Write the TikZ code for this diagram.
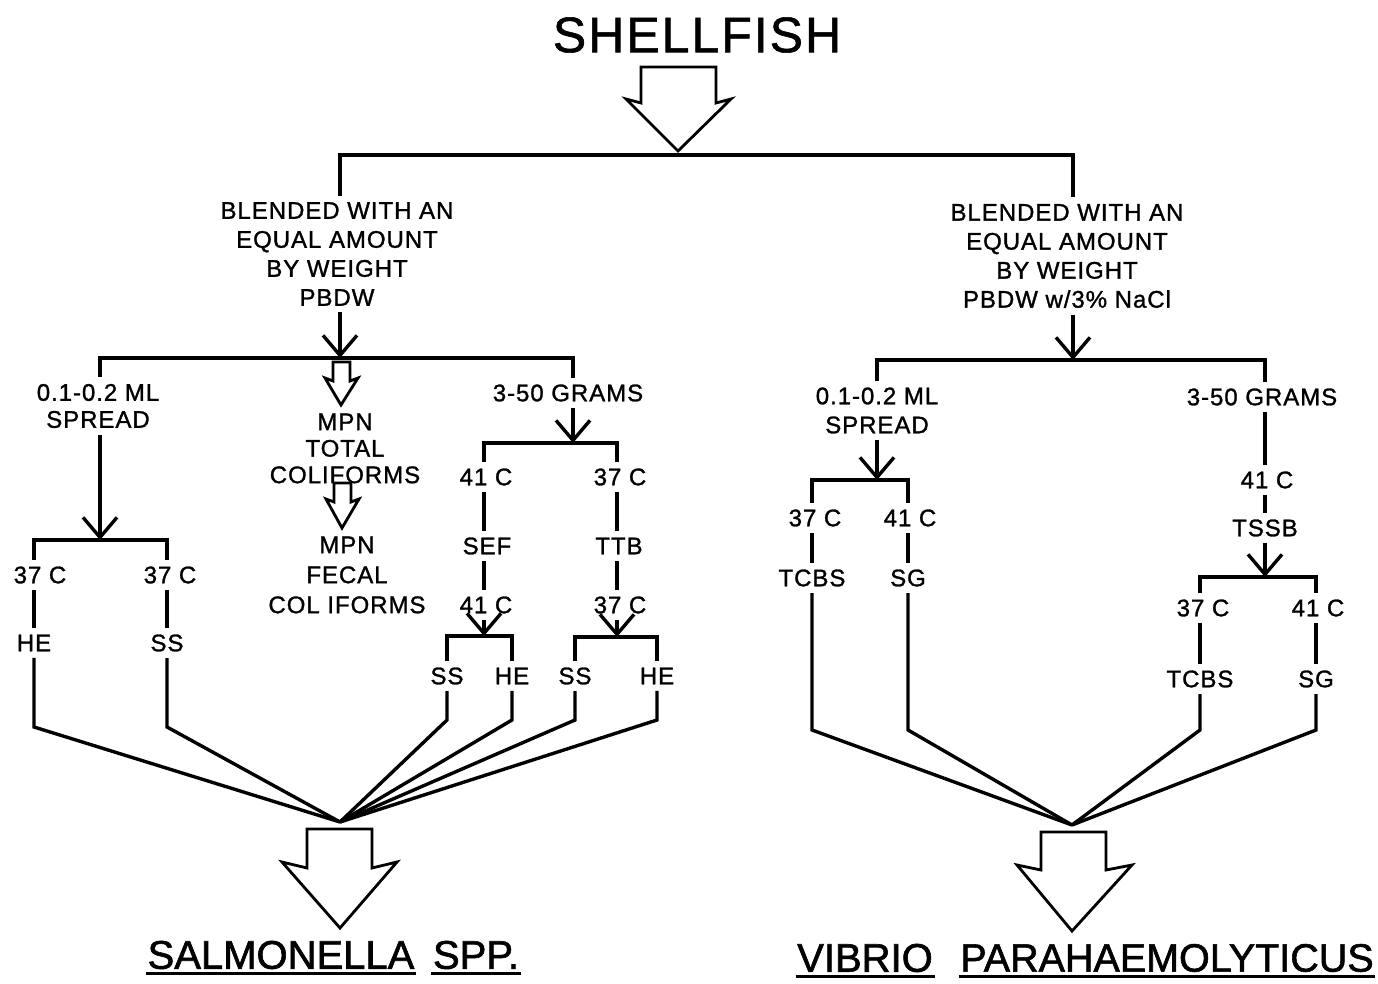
\documentclass[tikz,border=0pt]{standalone}
\usepackage{fontspec}
\setmainfont{Liberation Sans}[FakeBold=1.2,LetterSpace=4]
\newfontfamily\bigfont{Liberation Sans}[FakeBold=1.5]
\usetikzlibrary{arrows.meta}
\begin{document}
\begin{tikzpicture}[x=1pt,y=-1pt,line width=3.4pt,line join=miter,
  lab/.style={font=\fontsize{24}{28}\selectfont,inner sep=5pt,align=center},
  big/.style={font=\bigfont\fontsize{40}{40}\selectfont,inner sep=0pt},
  varrow/.style={-{Straight Barb[length=20pt,width=34pt,line join=miter]}},
  blk/.style={line width=2.8pt,fill=white,line join=miter},
  uline/.style={line width=3pt}]
\path[use as bounding box] (0,0) rectangle (1378,984);
% title
\node[font=\fontsize{50}{50}\selectfont,inner sep=0pt] (shell) at (697,35) {SHELLFISH};
\draw[blk] (641,67) -- (716,67) -- (716,103) -- (731,99) -- (678,151) -- (626,99) -- (641,103) -- cycle;
\coordinate (tL) at (340,155);
\coordinate (tR) at (1073,155);
\node[lab,font=\fontsize{24}{29}\selectfont] (blendL) at (337,254) {BLENDED WITH AN\\EQUAL AMOUNT\\BY WEIGHT\\PBDW};
\node[lab,font=\fontsize{24}{29}\selectfont] (blendR) at (1067,256) {BLENDED WITH AN\\EQUAL AMOUNT\\BY WEIGHT\\PBDW w/3\% NaCl};
\draw (blendL.north -| tL) -- (tL) -- (tR) -- (blendR.north -| tR);
% ---------------- left half ----------------
\coordinate (jL) at (340,358);
\draw[varrow] (blendL.south -| tL) -- (jL);
\coordinate (jLa) at (100,358);
\coordinate (jLc) at (573,358);
\node[lab,font=\fontsize{24}{27}\selectfont] (spreadL) at (98,406) {0.1-0.2 ML\\SPREAD};
\node[lab] (gramsL) at (568,393) {3-50 GRAMS};
\draw (spreadL.north -| jLa) -- (jLa) -- (jLc) -- (gramsL.north -| jLc);
% spread branch
\coordinate (kA) at (100,540);
\draw[varrow] (spreadL.south -| jLa) -- (kA);
\coordinate (kA1) at (34,540);
\coordinate (kA2) at (167,540);
\node[lab] (a1t) at (40,575) {37 C};
\node[lab] (a1m) at (34,643) {HE};
\node[lab] (a2t) at (170,575) {37 C};
\node[lab] (a2m) at (167,643) {SS};
\draw (a1t.north -| kA1) -- (kA1) -- (kA2) -- (a2t.north -| kA2);
\draw (a1t.south -| kA1) -- (a1m.north -| kA1);
\draw (a2t.south -| kA2) -- (a2m.north -| kA2);
\coordinate (convL) at (340,822);
\coordinate (a1e) at (34,727);
\coordinate (a2e) at (167,727);
\draw (a1m.south -| kA1) -- (a1e) -- (convL);
\draw (a2m.south -| kA2) -- (a2e) -- (convL);
% MPN column
\draw[blk] (333,362) -- (350,362) -- (350,381) -- (358,378) -- (341,405) -- (325,378) -- (333,381) -- cycle;
\node[lab,font=\fontsize{24}{26.5}\selectfont] (mpn1) at (345,448.5) {MPN\\TOTAL\\COLIFORMS};
\draw[blk] (334,483) -- (351,483) -- (351,502) -- (359,499) -- (342,528) -- (326,499) -- (334,502) -- cycle;
\node[lab,font=\fontsize{24}{30}\selectfont] (mpn2) at (347,575) {MPN\\FECAL\\COL IFORMS};
% grams branch
\coordinate (kB) at (573,443);
\draw[varrow] (gramsL.south -| jLc) -- (kB);
\coordinate (kB1) at (484,443);
\coordinate (kB2) at (617,443);
\node[lab] (b1t) at (486,477) {41 C};
\node[lab] (b1m) at (487,546) {SEF};
\node[lab] (b1b) at (486,605) {41 C};
\node[lab] (b2t) at (620,477) {37 C};
\node[lab] (b2m) at (619,546) {TTB};
\node[lab] (b2b) at (620,605) {37 C};
\draw (b1t.north -| kB1) -- (kB1) -- (kB2) -- (b2t.north -| kB2);
\draw (b1t.south -| kB1) -- (b1m.north -| kB1);
\draw (b1m.south -| kB1) -- (b1b.north -| kB1);
\draw (b2t.south -| kB2) -- (b2m.north -| kB2);
\draw (b2m.south -| kB2) -- (b2b.north -| kB2);
\coordinate (kC) at (484,636);
\draw[varrow] (b1b.south -| kB1) -- (kC);
\coordinate (kC1) at (447,636);
\coordinate (kC2) at (512,636);
\node[lab] (c1) at (447,676) {SS};
\node[lab] (c2) at (512,676) {HE};
\draw (c1.north -| kC1) -- (kC1) -- (kC2) -- (c2.north -| kC2);
\coordinate (c1e) at (447,720);
\coordinate (c2e) at (512,720);
\draw (c1.south -| kC1) -- (c1e) -- (convL);
\draw (c2.south -| kC2) -- (c2e) -- (convL);
\coordinate (kD) at (617,637);
\draw[varrow] (b2b.south -| kB2) -- (kD);
\coordinate (kD1) at (575,637);
\coordinate (kD2) at (657,637);
\node[lab] (d1) at (575,676) {SS};
\node[lab] (d2) at (657,676) {HE};
\draw (d1.north -| kD1) -- (kD1) -- (kD2) -- (d2.north -| kD2);
\coordinate (d1e) at (575,720);
\coordinate (d2e) at (657,720);
\draw (d1.south -| kD1) -- (d1e) -- (convL);
\draw (d2.south -| kD2) -- (d2e) -- (convL);
% result left
\draw[blk] (307,829) -- (372,829) -- (372,868) -- (397,862) -- (340,928) -- (282,862) -- (307,868) -- cycle;
\node[big] (salm) at (281,955) {SALMONELLA};
\node[big] (spp) at (476,955) {SPP.};
\draw[uline] ([yshift=-5pt]salm.base west) -- ([yshift=-5pt]salm.base east);
\draw[uline] ([yshift=-5pt]spp.base west) -- ([yshift=-5pt]spp.base east);
% ---------------- right half ----------------
\coordinate (jR) at (1073,360);
\draw[varrow] (blendR.south -| tR) -- (jR);
\coordinate (jRa) at (877,360);
\coordinate (jRc) at (1265,360);
\node[lab,font=\fontsize{24}{29}\selectfont] (spreadR) at (877,410.5) {0.1-0.2 ML\\SPREAD};
\node[lab] (gramsR) at (1262,397) {3-50 GRAMS};
\draw (spreadR.north -| jRa) -- (jRa) -- (jRc) -- (gramsR.north -| jRc);
\coordinate (kE) at (877,480);
\draw[varrow] (spreadR.south -| jRa) -- (kE);
\coordinate (kE1) at (812,480);
\coordinate (kE2) at (908,480);
\node[lab] (e1t) at (815,518) {37 C};
\node[lab] (e1m) at (812,578) {TCBS};
\node[lab] (e2t) at (910,518) {41 C};
\node[lab] (e2m) at (908,578) {SG};
\draw (e1t.north -| kE1) -- (kE1) -- (kE2) -- (e2t.north -| kE2);
\draw (e1t.south -| kE1) -- (e1m.north -| kE1);
\draw (e2t.south -| kE2) -- (e2m.north -| kE2);
\coordinate (convR) at (1072,825);
\coordinate (e1e) at (812,730);
\coordinate (e2e) at (908,730);
\draw (e1m.south -| kE1) -- (e1e) -- (convR);
\draw (e2m.south -| kE2) -- (e2e) -- (convR);
\node[lab] (f1) at (1267,480) {41 C};
\node[lab] (f2) at (1265,528) {TSSB};
\draw (gramsR.south -| jRc) -- (f1.north -| jRc);
\draw (f1.south -| jRc) -- (f2.north -| jRc);
\coordinate (kF) at (1265,577);
\draw[varrow] (f2.south -| jRc) -- (kF);
\coordinate (kF1) at (1200,577);
\coordinate (kF2) at (1316,577);
\node[lab] (g1t) at (1203,608) {37 C};
\node[lab] (g1m) at (1200,679) {TCBS};
\node[lab] (g2t) at (1318,608) {41 C};
\node[lab] (g2m) at (1316,679) {SG};
\draw (g1t.north -| kF1) -- (kF1) -- (kF2) -- (g2t.north -| kF2);
\draw (g1t.south -| kF1) -- (g1m.north -| kF1);
\draw (g2t.south -| kF2) -- (g2m.north -| kF2);
\coordinate (g1e) at (1200,730);
\coordinate (g2e) at (1316,730);
\draw (g1m.south -| kF1) -- (g1e) -- (convR);
\draw (g2m.south -| kF2) -- (g2e) -- (convR);
% result right
\draw[blk] (1041,832) -- (1106,832) -- (1106,870) -- (1132,865) -- (1072,931) -- (1017,865) -- (1041,870) -- cycle;
\node[big] (vib) at (865,958) {VIBRIO};
\node[big,font=\bigfont\fontsize{39.5}{40}\selectfont] (para) at (1167,958) {PARAHAEMOLYTICUS};
\draw[uline] ([yshift=-5pt]vib.base west) -- ([yshift=-5pt]vib.base east);
\draw[uline] ([yshift=-5pt]para.base west) -- ([yshift=-5pt]para.base east);
\end{tikzpicture}
\end{document}
